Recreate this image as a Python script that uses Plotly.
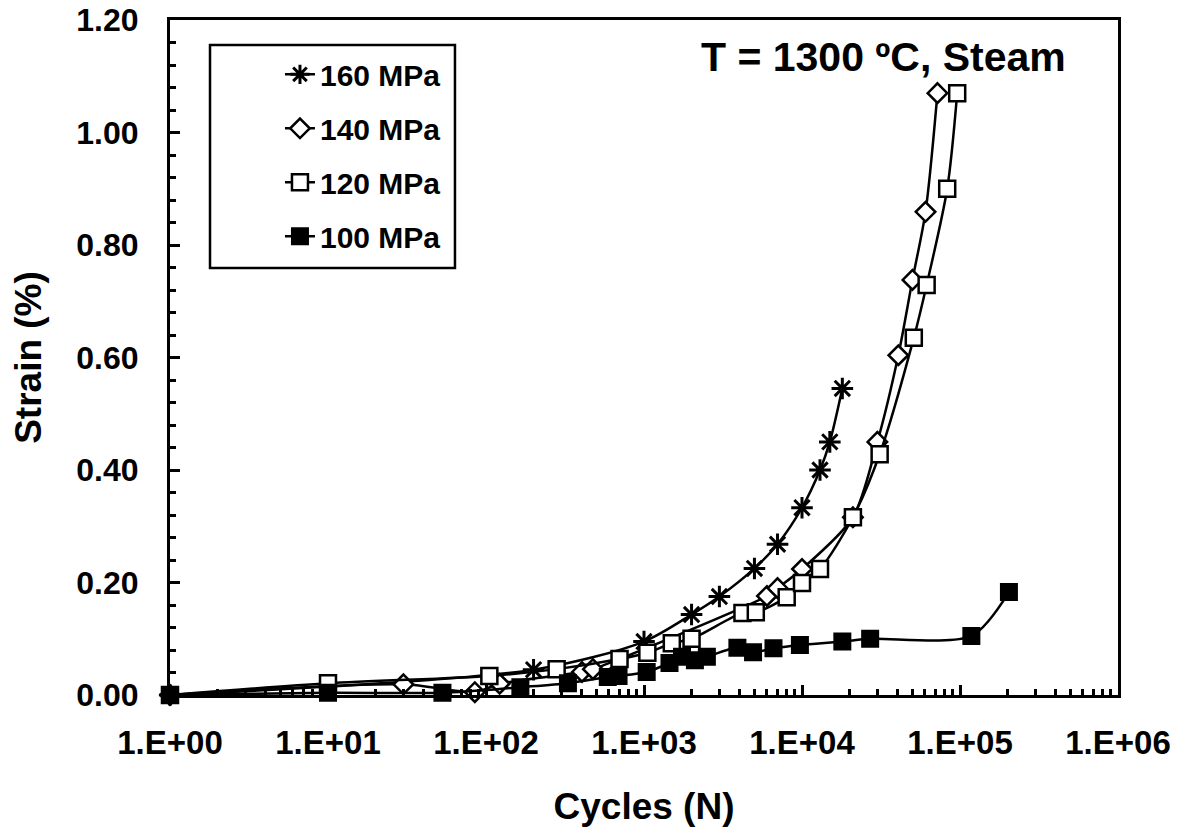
import plotly.graph_objects as go

# ---- data ----
n160 = [1, 200, 1000, 2000, 3000, 5000, 7000, 10000, 13000, 15000, 18000]
s160 = [0.0, 0.045, 0.095, 0.143, 0.175, 0.225, 0.268, 0.333, 0.40, 0.45, 0.545]

n140 = [1, 30, 85, 122, 405, 475, 6000, 7000, 10000, 21000, 30000, 40700, 50000, 60500, 72000]
s140 = [0.0, 0.019, 0.005, 0.02, 0.041, 0.046, 0.176, 0.19, 0.224, 0.316, 0.45, 0.604, 0.738, 0.859, 1.07]

n120 = [1, 10, 105, 280, 700, 1050, 1500, 2000, 4200, 5100, 8000, 10000, 13000,
        21000, 31000, 51000, 61500, 83000, 96000]
s120 = [0.0, 0.021, 0.034, 0.046, 0.064, 0.075, 0.092, 0.10, 0.146, 0.147, 0.174, 0.199,
        0.224, 0.316, 0.428, 0.635, 0.729, 0.90, 1.07]

n100 = [1, 10, 53, 165, 330, 590, 690, 1040, 1450, 1740, 2100, 2500, 3900, 4900, 6600,
        9700, 18000, 27000, 118000, 204000]
s100 = [0.0, 0.004, 0.004, 0.014, 0.021, 0.032, 0.034, 0.041, 0.057, 0.068, 0.062, 0.068,
        0.084, 0.076, 0.083, 0.089, 0.095, 0.10, 0.105, 0.183]

x_tickvals = [1, 10, 100, 1000, 10000, 100000, 1000000]
x_ticktext = ["1.E+00", "1.E+01", "1.E+02", "1.E+03", "1.E+04", "1.E+05", "1.E+06"]
y_tickvals = [0.0, 0.2, 0.4, 0.6, 0.8, 1.0, 1.2]

FONT = "Liberation Sans, Arial, sans-serif"

fig = go.Figure()

series = [
    ("160 MPa", n160, s160, dict(symbol="asterisk-open", size=18, color="black",
                                 line=dict(color="black", width=3))),
    ("140 MPa", n140, s140, dict(symbol="diamond", size=15, color="white",
                                 line=dict(color="black", width=2.5))),
    ("120 MPa", n120, s120, dict(symbol="square", size=16, color="white",
                                 line=dict(color="black", width=2.5))),
    ("100 MPa", n100, s100, dict(symbol="square", size=16, color="black",
                                 line=dict(color="black", width=2))),
]
for i, (name, xs, ys, mk) in enumerate(series):
    fig.add_trace(go.Scatter(
        x=xs, y=ys, name=name, mode="lines+markers",
        line=dict(color="black", width=2.5, shape="spline", smoothing=0.8),
        marker=mk, cliponaxis=False, legendgroup=f"g{i}",
    ))

minor_x = [k * 10 ** d for d in range(6) for k in range(2, 10)]

fig.update_layout(
    width=1183, height=831,
    margin=dict(l=170, r=65, t=20, b=136),
    paper_bgcolor="white", plot_bgcolor="white",
    font=dict(family=FONT, color="black", size=28, weight="bold"),
    showlegend=True,
    legend=dict(x=0.116, y=0.958, xanchor="left", yanchor="top",
                bgcolor="rgba(0,0,0,0)", borderwidth=0,
                font=dict(family=FONT, size=30, color="black", weight="bold"),
                tracegroupgap=12, itemwidth=30),
    xaxis=dict(
        type="log", range=[0, 6], automargin=False,
        tickmode="array", tickvals=x_tickvals, ticktext=x_ticktext,
        ticks="inside", ticklen=10, tickwidth=2.5, tickcolor="black",
        minor=dict(tickmode="array", tickvals=minor_x, ticks="inside",
                   ticklen=6, tickwidth=2.5, tickcolor="black", showgrid=False),
        showline=True, linecolor="black", linewidth=3, mirror=True,
        showgrid=False, zeroline=False,
        tickfont=dict(size=33, family=FONT, weight="bold"),
        ticklabelstandoff=16,
        title=dict(text="Cycles (N)", font=dict(size=37, family=FONT, weight="bold"),
                   standoff=34),
    ),
    yaxis=dict(
        range=[0, 1.2], automargin=False,
        tickmode="array", tickvals=y_tickvals, tickformat=".2f",
        ticks="inside", ticklen=10, tickwidth=2.5, tickcolor="black",
        minor=dict(dtick=0.04, ticks="inside", ticklen=6, tickwidth=2.5,
                   tickcolor="black", showgrid=False),
        showline=True, linecolor="black", linewidth=3, mirror=True,
        showgrid=False, zeroline=False,
        tickfont=dict(size=32, family=FONT, weight="bold"),
        ticklabelstandoff=22,
        title=dict(text="Strain (%)", font=dict(size=37, family=FONT, weight="bold"),
                   standoff=24),
    ),
    shapes=[dict(type="rect", xref="paper", yref="paper",
                 x0=0.0422, x1=0.3006, y0=0.6326, y1=0.963,
                 line=dict(color="black", width=2.5), fillcolor="rgba(0,0,0,0)")],
    annotations=[dict(text="T = 1300 ºC, Steam", xref="paper", yref="paper",
                      x=0.947, y=0.945, xanchor="right", yanchor="middle",
                      showarrow=False,
                      font=dict(size=41, family=FONT, color="black", weight="bold"))],
)

fig.write_html("out.html")
